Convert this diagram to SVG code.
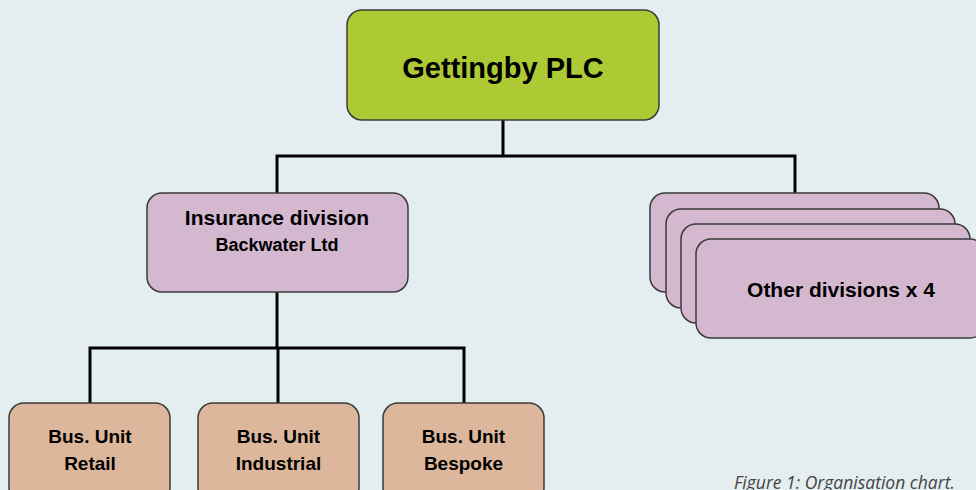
<svg xmlns="http://www.w3.org/2000/svg" width="976" height="490" viewBox="0 0 976 490">
<style>
.box{stroke:#3a3a3a;stroke-width:1.5}
.top{fill:#adc934}
.div{fill:#d4b8d0}
.bu{fill:#ddb79b}
.t{font-family:"Liberation Sans",Arial,sans-serif;font-weight:bold;fill:#000;text-anchor:middle}
.conn{fill:none;stroke:#000;stroke-width:3}
.cap{font-family:"Open Sans","DejaVu Sans",sans-serif;font-style:italic;font-size:17.5px;fill:#444}
</style>
<rect width="976" height="490" fill="#e4eef0"/>
<g id="connectors">
<polyline class="conn" points="503,120 503,156"/>
<polyline class="conn" points="277,193 277,156 795,156 795,193"/>
<polyline class="conn" points="277,292 277,348"/>
<polyline class="conn" points="90,403 90,348 464,348 464,403"/>
<line class="conn" x1="278" y1="348" x2="278" y2="403"/>
</g>
<g id="gettingby">
<rect class="box top" x="347" y="10" width="312" height="110" rx="15"/>
<text class="t" x="503" y="78" font-size="29">Gettingby PLC</text>
</g>
<g id="insurance">
<rect class="box div" x="147" y="193" width="261" height="99" rx="15"/>
<text class="t" x="277" y="225" font-size="21">Insurance division</text>
<text class="t" x="277" y="251" font-size="18">Backwater Ltd</text>
</g>
<g id="other">
<rect class="box div" x="650" y="193" width="289" height="99" rx="15"/>
<rect class="box div" x="666" y="209" width="289" height="99" rx="15"/>
<rect class="box div" x="681" y="224" width="289" height="99" rx="15"/>
<rect class="box div" x="696" y="239" width="289" height="99" rx="15"/>
<text class="t" x="841" y="297" font-size="21">Other divisions x 4</text>
</g>
<g id="retail">
<rect class="box bu" x="9" y="403" width="161" height="100" rx="15"/>
<text class="t" x="90" y="443" font-size="19">Bus. Unit</text>
<text class="t" x="90" y="470" font-size="19">Retail</text>
</g>
<g id="industrial">
<rect class="box bu" x="198" y="403" width="161" height="100" rx="15"/>
<text class="t" x="278.5" y="443" font-size="19">Bus. Unit</text>
<text class="t" x="278.5" y="470" font-size="19">Industrial</text>
</g>
<g id="bespoke">
<rect class="box bu" x="383" y="403" width="161" height="100" rx="15"/>
<text class="t" x="463.5" y="443" font-size="19">Bus. Unit</text>
<text class="t" x="463.5" y="470" font-size="19">Bespoke</text>
</g>
<text class="cap" x="734" y="489">Figure 1: Organisation chart.</text>
</svg>
